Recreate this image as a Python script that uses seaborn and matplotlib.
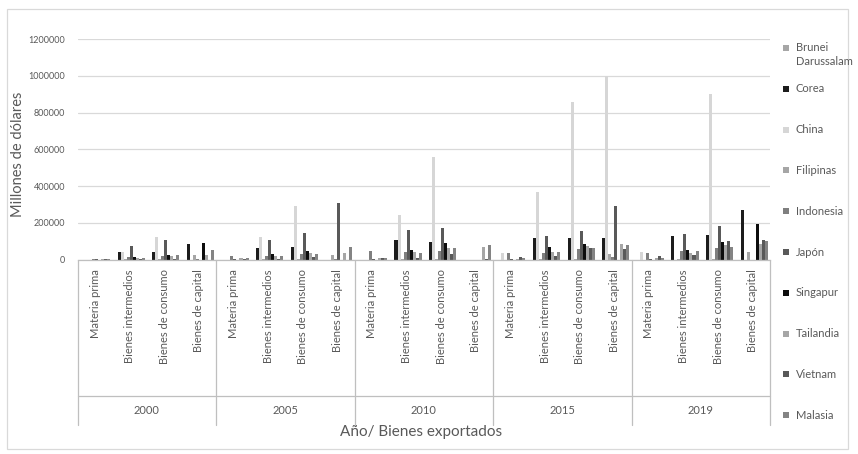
import matplotlib
matplotlib.use("Agg")
import matplotlib.pyplot as plt
from matplotlib.patches import Rectangle
from matplotlib.lines import Line2D
import numpy as np
import pandas as pd
import seaborn as sns

# Exportaciones por tipo de bien (millones de dólares)
years = ["2000", "2005", "2010", "2015", "2019"]
goods = ["Materia prima", "Bienes intermedios", "Bienes de consumo", "Bienes de capital"]
countries = ["Brunei Darussalam", "Corea", "China", "Filipinas", "Indonesia",
             "Japón", "Singapur", "Tailandia", "Vietnam", "Malasia"]

# one list per country, 20 values: (year, good) in the order above
brunei    = [0, 0, 0, 0,      0, 0, 0, 0,      0, 0, 0, 0,      0, 0, 0, 0,      0, 0, 0, 0]
corea     = [0, 39000, 41000, 84000,   0, 61000, 69000, 0,   0, 106000, 95000, 0,
             0, 115000, 115000, 115000,   0, 128000, 135000, 270000]
china     = [0, 39000, 121000, 0,   0, 120000, 292000, 0,   0, 244000, 560000, 0,
             36000, 366000, 857000, 1000000,   39000, 0, 900000, 0]
filipinas = [0, 2000, 4000, 24000,   0, 3000, 5000, 24000,   0, 3000, 5000, 0,
             0, 2000, 4000, 32000,   0, 4000, 5000, 41000]
indonesia = [1500, 11000, 20000, 4000,   16500, 17000, 28000, 5000,   48000, 40000, 45000, 0,
             36000, 34000, 58000, 11000,   34000, 48000, 63000, 0]
japon     = [500, 72000, 106000, 0,   1500, 105000, 142000, 308000,   4000, 161000, 172000, 0,
             4000, 128000, 155000, 291000,   5000, 139000, 182000, 0]
singapur  = [0, 11000, 24000, 89000,   0, 31000, 45000, 0,   0, 52000, 88000, 0,
             0, 69000, 84000, 0,   0, 50000, 98000, 192000]
tailandia = [500, 6000, 21000, 24000,   5500, 19000, 33000, 38000,   7000, 39000, 64000, 68000,
             5000, 39000, 71000, 83000,   8000, 36000, 81000, 82000]
vietnam   = [300, 2000, 2000, 0,   3700, 4000, 12000, 0,   9000, 8000, 30000, 4000,
             16000, 19000, 65000, 56000,   17000, 22000, 99000, 105000]
malasia   = [500, 7000, 22000, 52000,   5500, 17000, 31000, 68000,   7000, 33000, 61000, 79000,
             6000, 40000, 63000, 79000,   6000, 46000, 68000, 102000]

series = [brunei, corea, china, filipinas, indonesia, japon, singapur, tailandia, vietnam, malasia]
colors = ["#a6a6a6", "#1c1c1c", "#d6d6d6", "#a6a6a6", "#7f7f7f",
          "#595959", "#0d0d0d", "#a6a6a6", "#595959", "#848484"]

cats = [f"{y}|{g}" for y in years for g in goods]
rows = []
for name, vals in zip(countries, series):
    for c, v in zip(cats, vals):
        rows.append({"cat": c, "country": name, "value": v})
df = pd.DataFrame(rows)

sns.set_theme(style="white")
plt.rcParams["font.family"] = ["Lato", "DejaVu Sans"]

W, H = 858, 454
fig = plt.figure(figsize=(W / 100, H / 100), dpi=100)

def fx(px):
    return px / W

def fy(py):
    return 1 - py / H

left, right, top, bottom = 77.7, 770.0, 39.3, 259.5
ax = fig.add_axes([fx(left), fy(bottom), fx(right - left), (bottom - top) / H])

sns.barplot(data=df, x="cat", y="value", hue="country", order=cats,
            hue_order=countries, palette=colors, width=0.87, gap=0,
            saturation=1, legend=False, ax=ax, errorbar=None)
for p in ax.patches:
    p.set_linewidth(0)

ax.set_xlim(-0.5, len(cats) - 0.5)
ax.set_ylim(0, 1200000)
ax.set_yticks(np.arange(0, 1200001, 200000))
ax.set_yticklabels([f"{int(v)}" for v in np.arange(0, 1200001, 200000)],
                   fontsize=6.5, color="#595959")
ax.yaxis.grid(True, color="#d9d9d9", linewidth=0.9)
ax.set_axisbelow(True)
ax.tick_params(axis="y", length=0, pad=9)
for s in ["left", "right", "top"]:
    ax.spines[s].set_visible(False)
ax.spines["bottom"].set_color("#bfbfbf")
ax.spines["bottom"].set_linewidth(0.9)

ax.set_xticks(range(len(cats)))
ax.set_xticklabels([c.split("|")[1] for c in cats], rotation=90,
                   fontsize=8, color="#595959")
ax.tick_params(axis="x", length=0, pad=7)
ax.set_xlabel("")
ax.set_ylabel("")

# group separators and year labels under the category axis
line_kw = dict(color="#bfbfbf", linewidth=0.9, transform=fig.transFigure, clip_on=False)
sep_bottom = 425
for k in range(len(years) + 1):
    xpix = left + k * 4 * (right - left) / len(cats)
    fig.add_artist(Line2D([fx(xpix), fx(xpix)], [fy(bottom), fy(sep_bottom)], **line_kw))
fig.add_artist(Line2D([fx(left), fx(right)], [fy(396), fy(396)], **line_kw))
for k, y in enumerate(years):
    xpix = left + (k * 4 + 2) * (right - left) / len(cats)
    fig.text(fx(xpix), fy(411), y, ha="center", va="center", fontsize=8, color="#595959")

fig.text(fx(421), fy(432), "Año/ Bienes exportados", ha="center", va="center",
         fontsize=11, color="#595959")
fig.text(fx(18), fy(154), "Millones de dólares", ha="center", va="center",
         rotation=90, fontsize=10.5, color="#595959")

# legend on the right
for i, (name, col) in enumerate(zip(countries, colors)):
    yc = 48 + i * 40.8
    fig.add_artist(Rectangle((fx(783), fy(yc + 3)), fx(6), 6 / H,
                             facecolor=col, edgecolor="none", transform=fig.transFigure))
    label = name.replace(" ", "\n") if i == 0 else name
    if i == 0:
        fig.text(fx(796), fy(yc - 6), label, ha="left", va="top", fontsize=8,
                 color="#595959", linespacing=1.3)
    else:
        fig.text(fx(796), fy(yc), label, ha="left", va="center", fontsize=8,
                 color="#595959")

# chart frame
fig.add_artist(Rectangle((fx(7), fy(449)), fx(848 - 7), (449 - 9) / H, fill=False,
                         edgecolor="#d9d9d9", linewidth=0.9, transform=fig.transFigure))

fig.savefig("out.png", dpi=100, facecolor="white")
